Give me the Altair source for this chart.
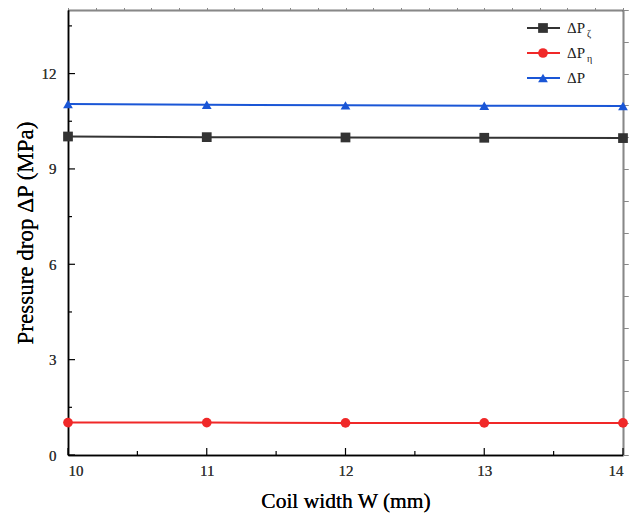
import altair as alt
import pandas as pd

# ---- data ----
coil_width = [10, 11, 12, 13, 14]
dp_zeta = [10.02, 10.0, 9.99, 9.98, 9.97]
dp_eta = [1.02, 1.02, 1.01, 1.01, 1.01]
dp_total = [11.04, 11.02, 11.0, 10.99, 10.98]
series_names = ["ΔPζ", "ΔPη", "ΔP"]
series_colors = ["#333333", "#f02828", "#1a56d6"]
series_shapes = ["square", "circle", "triangle-up"]
x_major = [10, 11, 12, 13, 14]
x_minor = [10.5, 11.5, 12.5, 13.5]
y_major = [0, 3, 6, 9, 12]
y_minor = [1.5, 4.5, 7.5, 10.5, 13.5]

W, H = 555, 445
FONT = "Liberation Serif"

rows = []
for name, vals in zip(series_names, [dp_zeta, dp_eta, dp_total]):
    for x, v in zip(coil_width, vals):
        rows.append({"w": x, "dp": v, "series": name})
df = pd.DataFrame(rows)

xscale = alt.Scale(domain=[10, 14], nice=False, zero=False)
yscale = alt.Scale(domain=[0, 14], nice=False)
color = alt.Color("series:N", scale=alt.Scale(domain=series_names, range=series_colors), legend=None)
shape = alt.Shape("series:N", scale=alt.Scale(domain=series_names, range=series_shapes), legend=None)

base = alt.Chart(df).encode(
    x=alt.X("w:Q", scale=xscale,
            axis=alt.Axis(title="Coil width W (mm)", values=x_major, format="d", ticks=False, grid=False,
                          labelFont=FONT, labelFontSize=15, labelColor="#333333", labelPadding=8,
                          titleFont=FONT, titleFontSize=21.5, titleFontWeight="normal",
                          titleColor="#000000", titlePadding=12,
                          domainColor="#000000", domainWidth=1.5)),
    y=alt.Y("dp:Q", scale=yscale,
            axis=alt.Axis(title="Pressure drop ΔP (MPa)", values=y_major, ticks=False, grid=False,
                          labelFont=FONT, labelFontSize=15, labelColor="#333333", labelPadding=12,
                          titleFont=FONT, titleFontSize=23, titleFontWeight="normal",
                          titleColor="#000000", titlePadding=4,
                          domainColor="#000000", domainWidth=1.5)),
    color=color,
)
lines = base.mark_line(strokeWidth=2)
points = base.mark_point(filled=True, size=95, opacity=1).encode(shape=shape)

# top and right axes used only for their domain lines (plot frame)
frame_axes = alt.Chart(pd.DataFrame({"w": [coil_width[0]], "dp": [dp_eta[0]]})).mark_point(opacity=0).encode(
    x=alt.X("w:Q", scale=xscale,
            axis=alt.Axis(orient="top", labels=False, ticks=False, title=None, grid=False,
                          domainColor="#000000", domainWidth=1.5)),
    y=alt.Y("dp:Q", scale=yscale,
            axis=alt.Axis(orient="right", labels=False, ticks=False, title=None, grid=False,
                          domainColor="#000000", domainWidth=1.5)),
)

# inward ticks
xt_major = alt.Chart(pd.DataFrame({"t": x_major})).mark_rule(color="black", strokeWidth=1.2).encode(
    x=alt.X("t:Q", scale=xscale), y=alt.value(H), y2=alt.value(H - 7))
xt_minor = alt.Chart(pd.DataFrame({"t": x_minor})).mark_rule(color="black", strokeWidth=1.2).encode(
    x=alt.X("t:Q", scale=xscale), y=alt.value(H), y2=alt.value(H - 4))
yt_major = alt.Chart(pd.DataFrame({"t": y_major})).mark_rule(color="black", strokeWidth=1.2).encode(
    y=alt.Y("t:Q", scale=yscale), x=alt.value(0), x2=alt.value(7))
yt_minor = alt.Chart(pd.DataFrame({"t": y_minor})).mark_rule(color="black", strokeWidth=1.2).encode(
    y=alt.Y("t:Q", scale=yscale), x=alt.value(0), x2=alt.value(4))

# custom legend
one = pd.DataFrame({"k": [0]})
leg_layers = []
main_labels = ["ΔP", "ΔP", "ΔP"]
subs = ["ζ", "η", ""]
for i, (c, s, lab, sub) in enumerate(zip(series_colors, series_shapes, main_labels, subs)):
    yy = 18 + i * 25
    leg_layers.append(alt.Chart(one).mark_rule(color=c, strokeWidth=2).encode(
        x=alt.value(459), x2=alt.value(492), y=alt.value(yy)))
    leg_layers.append(alt.Chart(one).mark_point(filled=True, color=c, shape=s, size=95, opacity=1).encode(
        x=alt.value(475), y=alt.value(yy)))
    leg_layers.append(alt.Chart(one).mark_text(text=lab, font=FONT, fontSize=15, align="left",
                                                baseline="middle", color="#222222").encode(
        x=alt.value(499), y=alt.value(yy)))
    if sub:
        leg_layers.append(alt.Chart(one).mark_text(text=sub, font=FONT, fontSize=10, align="left",
                                                    baseline="middle", color="#222222").encode(
            x=alt.value(519), y=alt.value(yy + 6)))

chart = alt.layer(lines, frame_axes, points, xt_major, xt_minor, yt_major, yt_minor,
                  *leg_layers).resolve_axis(x="independent", y="independent").properties(
    width=W, height=H,
    background="white",
    autosize=alt.AutoSizeParams(type="none"),
    padding={"left": 60, "top": 2, "right": 6, "bottom": 60},
)

chart.save("out.html", embed_options={"renderer": "svg", "actions": False})
